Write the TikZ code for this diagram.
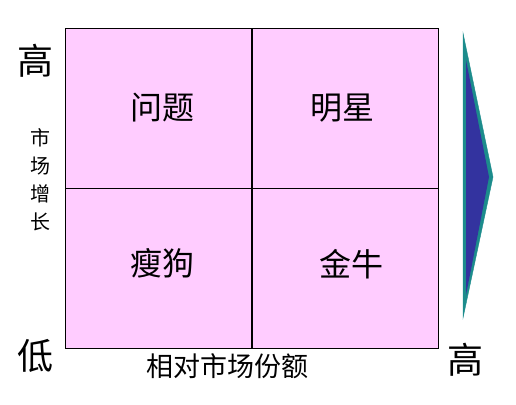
\documentclass[tikz,border=0pt]{standalone}
\usepackage{fontspec}
\setmainfont{Noto Sans CJK SC}
\usetikzlibrary{positioning}
\definecolor{cellpink}{HTML}{FFCCFF}
\definecolor{arrowblue}{HTML}{33339F}
\definecolor{arrowteal}{HTML}{1C8C8C}
\tikzset{
  cell/.style={draw=black,fill=cellpink,line width=0.8pt,minimum width=186pt,minimum height=160pt,inner sep=0pt},
  celltext/.style={font=\fontsize{32}{34}\selectfont},
  endtext/.style={font=\fontsize{36}{38}\selectfont},
  axistext/.style={font=\fontsize{27}{29}\selectfont},
}
\begin{document}
\begin{tikzpicture}[x=1pt,y=-1pt,>=latex]
\useasboundingbox (0,0) rectangle (516,404);
%%
\node (wenti) at (158.5,108) [cell] {};
\node (mingxing) at (345,108) [cell] {};
\node (shougou) at (158.5,268) [cell] {};
\node (jinniu) at (345,268) [cell] {};
\node at (wenti.center) [celltext,xshift=3.5pt] {问题};
\node at (mingxing.center) [celltext,xshift=-3pt] {明星};
\node at (shougou.center) [celltext,xshift=3.5pt,yshift=5pt] {瘦狗};
\node at (jinniu.center) [celltext,xshift=6pt,yshift=4pt] {金牛};
%
\node (gao) at (35,61) [endtext] {高};
\node (di) at (35,356) [endtext] {低};
\node (gaoright) at (465,360) [endtext] {高};
\node (zengzhang) at (40,180) [font=\fontsize{20}{28}\selectfont,align=center] {市\\场\\增\\长};
\node (fene) at (227,366) [axistext] {相对市场份额};
%
\coordinate (tiptop) at (463,33);
\coordinate (tip) at (493,177);
\coordinate (tipbottom) at (463,318);
\draw [arrowteal,fill=arrowteal,line join=miter] (tiptop) -- (tip) -- (tipbottom) -- cycle;
\fill [arrowblue] (466,60) -- (489,177) -- (466,295) -- cycle;
%
\end{tikzpicture}
\end{document}
